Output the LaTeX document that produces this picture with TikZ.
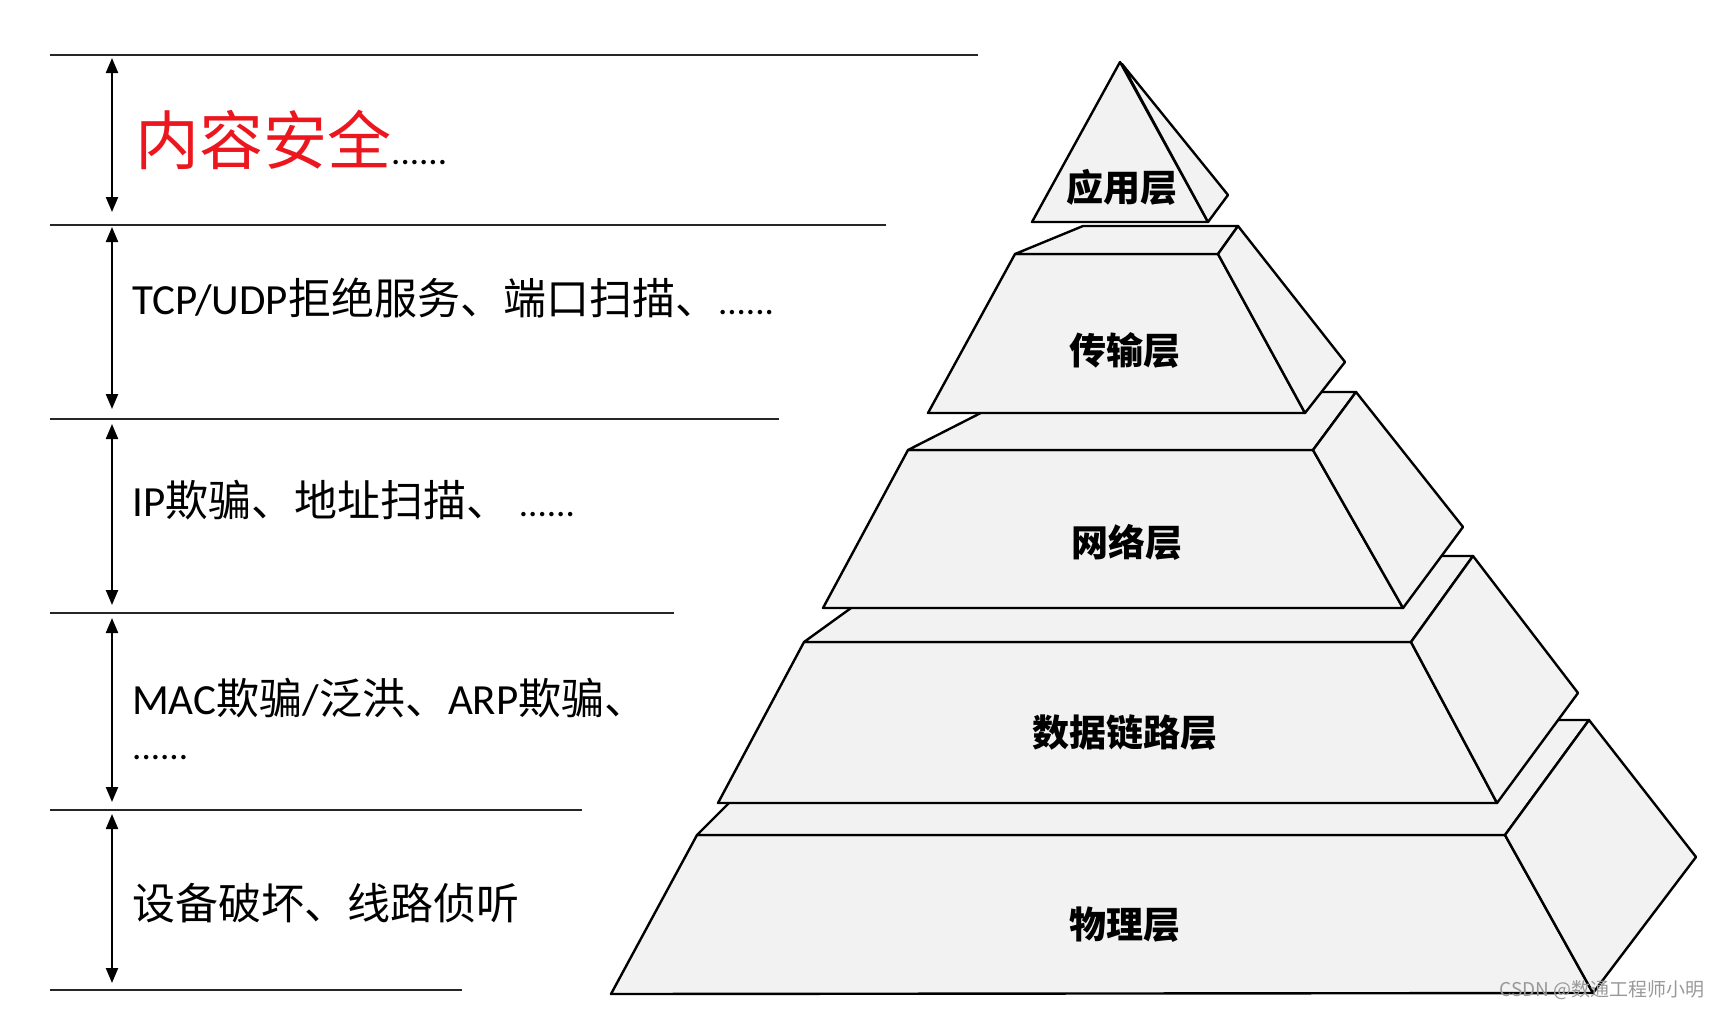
\documentclass[tikz,border=0pt]{standalone}
\usepackage{fontspec}
\setmainfont{Noto Sans CJK SC}
\newfontfamily\latinfont{Carlito}
\usetikzlibrary{arrows.meta}
\definecolor{alertred}{RGB}{236,22,30}
\definecolor{facegray}{RGB}{242,242,242}
\newcommand\moredots{{\latinfont\fontsize{37}{40}\selectfont ......}}

\begin{document}
\begin{tikzpicture}[x=1pt, y=-1pt,
  rule/.style={black!85, line width=2.4pt},
  span/.style={{Triangle[length=15pt,width=12pt]}-{Triangle[length=15pt,width=12pt]}, line width=2.2pt},
  face/.style={draw=black, fill=facegray, line width=2.4pt, line join=round},
  layername/.style={font=\fontsize{37}{40}\selectfont\bfseries, inner sep=0pt},
  threat/.style={anchor=base west, inner sep=0pt, font=\fontsize{43}{48}\selectfont}]
\useasboundingbox (0,0) rectangle (1721,1009);
\draw[rule] (50,55) -- (978,55);
\draw[rule] (50,225) -- (886,225);
\draw[rule] (50,419) -- (779,419);
\draw[rule] (50,613) -- (674,613);
\draw[rule] (50,810) -- (582,810);
\draw[rule] (50,990) -- (462,990);
\draw[span] (112,58) -- (112,212);
\draw[span] (112,227) -- (112,409);
\draw[span] (112,424) -- (112,605);
\draw[span] (112,618) -- (112,802);
\draw[span] (112,814) -- (112,983);
\node[threat, font=\fontsize{64}{70}\selectfont] (content) at (135,164) {\textcolor{alertred}{内容安全}\moredots};
\node[threat] (transport) at (132,314) {{\latinfont TCP/UDP}拒绝服务、端口扫描、\moredots};
\node[threat] (network) at (132,516) {{\latinfont IP}欺骗、地址扫描、 \moredots};
\node[threat, align=left, font=\fontsize{43}{45}\selectfont] (link) at (132,759) {{\latinfont MAC}欺骗{\latinfont /}泛洪、{\latinfont ARP}欺骗、\\\moredots};
\node[threat] (physical) at (132,919) {设备破坏、线路侦听};
\draw[face] (697,835) -- (1505,835) -- (1593,993) -- (611,994) -- cycle;
\draw[face] (697,835) -- (812,720) -- (1589,720) -- (1505,835) -- cycle;
\draw[face] (1505,835) -- (1589,720) -- (1696,857) -- (1593,993) -- cycle;
\draw[face] (804,642) -- (1411,642) -- (1497,803) -- (718,803) -- cycle;
\draw[face] (804,642) -- (923,556) -- (1473,556) -- (1411,642) -- cycle;
\draw[face] (1411,642) -- (1473,556) -- (1578,693) -- (1497,803) -- cycle;
\draw[face] (908,450) -- (1313,450) -- (1403,608) -- (823,608) -- cycle;
\draw[face] (908,450) -- (1022,392) -- (1356,392) -- (1313,450) -- cycle;
\draw[face] (1313,450) -- (1356,392) -- (1463,527) -- (1403,608) -- cycle;
\draw[face] (1015,254) -- (1218,254) -- (1305,413) -- (928,413) -- cycle;
\draw[face] (1015,254) -- (1083,226) -- (1238,226) -- (1218,254) -- cycle;
\draw[face] (1218,254) -- (1238,226) -- (1345,362) -- (1305,413) -- cycle;
\draw[face] (1120,62) -- (1208,222) -- (1032,222) -- cycle;
\draw[face] (1122,64) -- (1228,195) -- (1208,222) -- cycle;
\node[layername] (app) at (1122,187) {应用层};
\node[layername] (tra) at (1125,350) {传输层};
\node[layername] (net) at (1127,542) {网络层};
\node[layername] (dat) at (1125,733) {数据链路层};
\node[layername] (phy) at (1125,925) {物理层};
\node[anchor=base east, inner sep=0pt, text=black!40, font=\fontsize{19}{20}\selectfont] (mark) at (1705,996) {CSDN @数通工程师小明};
\end{tikzpicture}
\end{document}
